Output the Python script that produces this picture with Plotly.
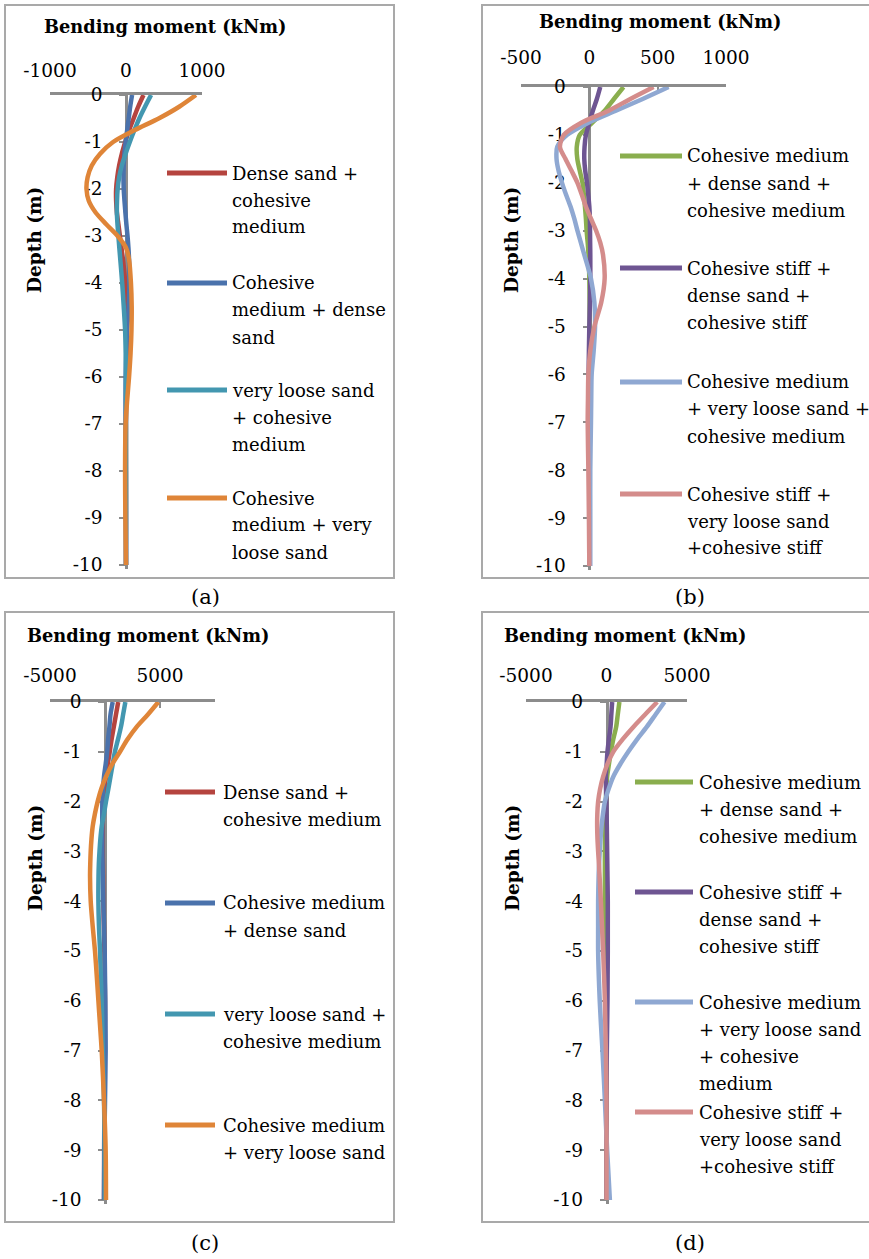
import plotly.graph_objects as go

W, H = 869, 1259
FONT = "DejaVu Serif"

# ---------------- data ----------------
DEPTH = [0, -0.25, -0.5, -0.75, -1, -1.25, -1.5, -1.75, -2, -2.25, -2.5, -2.75,
         -3, -3.25, -3.5, -4, -4.5, -5, -5.5, -6, -6.5, -7, -8, -9, -10]
DEPTH_TICKS = [0, -1, -2, -3, -4, -5, -6, -7, -8, -9, -10]

# panel (a)
A_NAMES = [["Dense sand +", "cohesive", "medium"],
           ["Cohesive", "medium + dense", "sand"],
           ["very loose sand", "+ cohesive", "medium"],
           ["Cohesive", "medium + very", "loose sand"]]
A_DENSE_CM = [230, 160, 100, 40, -10, -55, -90, -115, -130, -130, -120, -100,
              -80, -60, -40, -10, 5, 10, 8, 5, 2, 0, 0, 0, 0]
A_CM_DENSE = [80, 55, 35, 15, -5, -20, -30, -33, -30, -20, -8, 5,
              20, 32, 40, 45, 35, 15, 3, -5, -6, -5, -2, 0, 0]
A_VLS_CM = [330, 250, 175, 110, 50, -5, -55, -90, -110, -118, -120, -112,
            -100, -88, -75, -50, -30, -12, -4, 0, 0, 0, 0, 0, 0]
A_CM_VLS = [920, 700, 430, 110, -170, -340, -450, -505, -520, -490, -400, -260,
            -110, 0, 40, 65, 75, 72, 60, 40, 15, -5, -12, -8, 0]

# panel (b)
B_NAMES = [["Cohesive medium", "+ dense sand +", "cohesive medium"],
           ["Cohesive stiff +", "dense sand +", "cohesive stiff"],
           ["Cohesive medium", "+ very loose sand +", "cohesive medium"],
           ["Cohesive stiff +", "very loose sand", "+cohesive stiff"]]
B_CM_DS_CM = [250, 180, 110, 20, -70, -92, -88, -70, -50, -40, -32, -25,
              -20, -12, -6, 0, 2, 2, 0, 0, 0, 0, 0, 0, 0]
B_CS_DS_CS = [80, 55, 25, 0, -25, -35, -37, -30, -17, -8, 0, 4,
              5, 6, 7, 7, 4, 0, -3, -5, -4, -2, 0, 0, 0]
B_CM_VLS_CM = [580, 390, 190, -10, -162, -235, -240, -225, -200, -170, -137, -110,
               -87, -62, -37, 12, 37, 42, 32, 17, 14, 12, 7, 7, 7]
B_CS_VLS_CS = [470, 300, 137, -62, -187, -215, -175, -130, -87, -55, -25, 12,
               50, 80, 100, 112, 87, 37, 7, -7, -10, -12, -7, -3, 0]

# panel (c)
C_NAMES = [["Dense sand +", "cohesive medium"],
           ["Cohesive medium", "+ dense sand"],
           ["very loose sand +", "cohesive medium"],
           ["Cohesive medium", "+ very loose sand"]]
C_DENSE_CM = [1200, 1000, 800, 600, 430, 250, 90, -50, -150, -190, -210, -215,
              -210, -190, -170, -150, -100, -60, -30, 0, 0, -20, -50, -80, -90]
C_CM_DENSE = [700, 500, 400, 280, 200, 60, -90, -180, -240, -250, -250, -245,
              -240, -220, -200, -150, -90, -30, 0, 30, 45, 60, 0, -60, -90]
C_VLS_CM = [1850, 1650, 1450, 1180, 900, 700, 500, 300, 90, -100, -300, -420,
            -500, -560, -590, -600, -550, -450, -380, -300, -250, -200, -90, -30, 0]
C_CM_VLS = [4850, 3900, 2880, 2050, 1360, 650, 90, -350, -670, -920, -1120, -1230,
            -1300, -1340, -1360, -1300, -1120, -910, -750, -600, -450, -300, -90, 60, 90]

# panel (d)
D_NAMES = [["Cohesive medium", "+ dense sand +", "cohesive medium"],
           ["Cohesive stiff +", "dense sand +", "cohesive stiff"],
           ["Cohesive medium", "+ very loose sand", "+ cohesive", "medium"],
           ["Cohesive stiff +", "very loose sand", "+cohesive stiff"]]
D_CM_DS_CM = [800, 700, 600, 420, 270, 150, 40, -10, -40, -65, -80, -90,
              -100, -100, -100, -100, -70, -40, -20, -10, 0, 0, 0, 0, 0]
D_CS_DS_CS = [350, 300, 250, 150, 60, 10, -40, -30, -10, 5, 20, 30,
              40, 50, 60, 80, 80, 80, 70, 60, 40, 20, 0, 0, 0]
D_CM_VLS_CM = [3600, 3050, 2500, 1900, 1350, 850, 420, 130, -100, -220, -310, -370,
               -420, -460, -490, -520, -520, -520, -480, -420, -340, -250, -100, 40, 210]
D_CS_VLS_CS = [3150, 2400, 1670, 1000, 420, 50, -210, -400, -520, -570, -580, -560,
               -520, -470, -430, -350, -280, -210, -150, -100, -70, -40, 0, 0, 0]

# x tick labels
A_XTICKS = [-1000, 0, 1000]
A_XTEXT = ["-1000", "0", "1000"]
B_XTICKS = [-500, 0, 500, 1000]
B_XTEXT = ["-500", "0", "500", "1000"]
C_XTICKS = [-5000, 0, 5000, 10000]
C_XTEXT = ["-5000", "", "5000", ""]
D_XTICKS = [-5000, 0, 5000]
D_XTEXT = ["-5000", "0", "5000"]
DEPTH_TEXT = [str(v) if v == 0 else "-" + str(-v) for v in DEPTH_TICKS]

COLORS_1 = ["#B5443F", "#4A72AC", "#4397B0", "#DF8538"]
COLORS_2 = ["#8AAE4E", "#6E5592", "#8FA8D2", "#D48C8B"]

# ---------------- layout geometry (pixels) ----------------
def px(x):
    return x / W

def py(y):
    return 1 - y / H

panels = [
    dict(series=[A_DENSE_CM, A_CM_DENSE, A_VLS_CM, A_CM_VLS], names=A_NAMES, colors=COLORS_1,
         xr=(-1000, 1000), xpx=(50, 202), y0=95, y10=565, ticks=A_XTICKS, ttext=A_XTEXT, stand=8,
         frame=(5, 5, 394, 578), title=(165, 26), depth=(35, 240), cap=(205, 597, "(a)"),
         leg=(167, 227, 231, [173, 283, 390, 498])),
    dict(series=[B_CM_DS_CM, B_CS_DS_CS, B_CM_VLS_CM, B_CS_VLS_CS], names=B_NAMES, colors=COLORS_2,
         xr=(-500, 1000), xpx=(521, 726), y0=87, y10=566, ticks=B_XTICKS, ttext=B_XTEXT, stand=13,
         frame=(482, 5, 880, 578), title=(660, 22), depth=(512, 240), cap=(690, 597, "(b)"),
         leg=(620, 682, 686, [156, 268, 382, 494])),
    dict(series=[C_DENSE_CM, C_CM_DENSE, C_VLS_CM, C_CM_VLS], names=C_NAMES, colors=COLORS_1,
         xr=(-5000, 10000), xpx=(50, 215), y0=702, y10=1200, ticks=C_XTICKS, ttext=C_XTEXT, stand=10,
         frame=(5, 612, 394, 1222), title=(148, 636), depth=(35, 858), cap=(205, 1243, "(c)"),
         leg=(165, 215, 222, [792, 903, 1014, 1125])),
    dict(series=[D_CM_DS_CM, D_CS_DS_CS, D_CM_VLS_CM, D_CS_VLS_CS], names=D_NAMES, colors=COLORS_2,
         xr=(-5000, 5000), xpx=(526, 687), y0=702, y10=1200, ticks=D_XTICKS, ttext=D_XTEXT, stand=10,
         frame=(482, 612, 880, 1222), title=(625, 636), depth=(512, 858), cap=(690, 1243, "(d)"),
         leg=(635, 693, 698, [782, 892, 1002, 1112])),
]

fig = go.Figure()
shapes, annotations = [], []
layout = {}
AXIS_GRAY = "#8C8C8C"
YBOT = -10.08
TICK_FS = 18.5
LEG_FS = 18
LEG_SPACING = 27

for i, p in enumerate(panels, start=1):
    xa = "x" if i == 1 else f"x{i}"
    ya = "y" if i == 1 else f"y{i}"
    xkey = "xaxis" if i == 1 else f"xaxis{i}"
    ykey = "yaxis" if i == 1 else f"yaxis{i}"
    for vals, name, col in zip(p["series"], p["names"], p["colors"]):
        fig.add_trace(go.Scatter(x=vals, y=DEPTH, mode="lines", name=" ".join(name),
                                 line=dict(color=col, width=4.5, shape="spline", smoothing=0.8),
                                 xaxis=xa, yaxis=ya, showlegend=False, hoverinfo="skip"))
    ppm = (p["y10"] - p["y0"]) / 10.0
    ybot_px = p["y10"] + (-YBOT - 10) * ppm
    x0px, x1px = p["xpx"]
    zero_px = x0px + (0 - p["xr"][0]) / (p["xr"][1] - p["xr"][0]) * (x1px - x0px)
    layout[xkey] = dict(domain=[px(x0px), px(x1px)], range=list(p["xr"]), side="top",
                        anchor=ya, showgrid=False, zeroline=False, showline=True, automargin=False,
                        linecolor=AXIS_GRAY, linewidth=2.5, ticks="inside", ticklen=6,
                        tickwidth=2, tickcolor=AXIS_GRAY, tickvals=p["ticks"], ticktext=p["ttext"],
                        tickfont=dict(family=FONT, size=TICK_FS, color="black"),
                        ticklabelstandoff=p["stand"], layer="below traces")
    layout[ykey] = dict(domain=[py(ybot_px), py(p["y0"])], range=[YBOT, 0], anchor="free",
                        position=px(zero_px), showgrid=False, zeroline=False, showline=True,
                        automargin=False,
                        linecolor=AXIS_GRAY, linewidth=2.5, ticks="outside", ticklen=6,
                        tickwidth=2, tickcolor=AXIS_GRAY, tickvals=DEPTH_TICKS, ticktext=DEPTH_TEXT,
                        tickfont=dict(family=FONT, size=TICK_FS, color="black"),
                        ticklabelstandoff=13, layer="below traces")
    # frame
    fx0, fy0, fx1, fy1 = p["frame"]
    shapes.append(dict(type="rect", xref="paper", yref="paper", x0=px(fx0), x1=px(fx1),
                       y0=py(fy0), y1=py(fy1), line=dict(color="#A9A9A9", width=2)))
    # titles
    annotations.append(dict(text="<b>Bending moment (kNm)</b>", x=px(p["title"][0]), y=py(p["title"][1]),
                            xref="paper", yref="paper", showarrow=False, xanchor="center", yanchor="middle",
                            font=dict(family=FONT, size=17.8, color="black")))
    annotations.append(dict(text="<b>Depth (m)</b>", x=px(p["depth"][0]), y=py(p["depth"][1]),
                            xref="paper", yref="paper", showarrow=False, textangle=-90,
                            xanchor="center", yanchor="middle",
                            font=dict(family=FONT, size=18.5, color="black")))
    annotations.append(dict(text=p["cap"][2], x=px(p["cap"][0]), y=py(p["cap"][1]),
                            xref="paper", yref="paper", showarrow=False, xanchor="center", yanchor="middle",
                            font=dict(family=FONT, size=21, color="black")))
    # legend
    lx0, lx1, tx, ys = p["leg"]
    for lines, col, yc in zip(p["names"], p["colors"], ys):
        shapes.append(dict(type="line", xref="paper", yref="paper", x0=px(lx0), x1=px(lx1),
                           y0=py(yc), y1=py(yc), line=dict(color=col, width=5)))
        for k, line in enumerate(lines):
            annotations.append(dict(text=line, x=px(tx), y=py(yc + k * LEG_SPACING),
                                    xref="paper", yref="paper", showarrow=False,
                                    xanchor="left", yanchor="middle", align="left", borderpad=0,
                                    font=dict(family=FONT, size=LEG_FS, color="black")))

fig.update_layout(width=W, height=H, margin=dict(l=0, r=0, t=0, b=0, autoexpand=False),
                  paper_bgcolor="white", plot_bgcolor="rgba(0,0,0,0)",
                  shapes=shapes, annotations=annotations, showlegend=False, **layout)

fig.write_html("out.html")
